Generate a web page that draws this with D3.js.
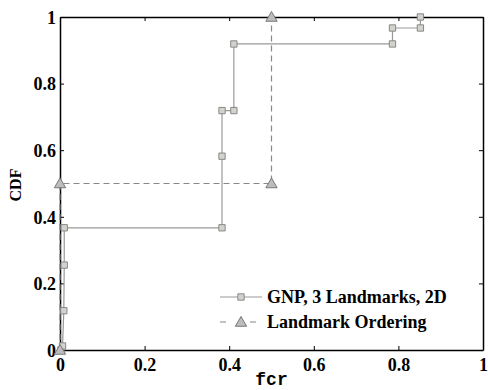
<!DOCTYPE html>
<html>
<head>
<meta charset="utf-8">
<script src="https://cdn.jsdelivr.net/npm/d3@7"></script>
<style>
  body { margin: 0; background: #fff; }
  svg { display: block; }
  .tick text { font-family: "Liberation Serif", serif; font-weight: bold; font-size: 18px; fill: #000; }
  .axis path, .axis line { stroke: #000; }
</style>
</head>
<body>
<svg width="488" height="390"></svg>
<script>
// GNP, 3 Landmarks, 2D (stair corners as plotted)
const gnpX = [0.002, 0.006, 0.009, 0.01, 0.01, 0.383, 0.383, 0.383, 0.411, 0.411, 0.786, 0.786, 0.852, 0.852];
const gnpY = [0, 0.012, 0.118, 0.255, 0.367, 0.367, 0.582, 0.719, 0.719, 0.919, 0.919, 0.967, 0.967, 1.0];

// Landmark Ordering
const ordX = [0, 0, 0.5, 0.5];
const ordY = [0, 0.5, 0.5, 1.0];

const tickValues = [0, 0.2, 0.4, 0.6, 0.8, 1];
const tickLabels = ['0', '0.2', '0.4', '0.6', '0.8', '1'];
const legendLabels = ['GNP, 3 Landmarks, 2D', 'Landmark Ordering'];

const margin = {top: 17, right: 5, bottom: 40, left: 60};

const svg = d3.select('svg');
const width = +svg.attr('width') - margin.left - margin.right;
const height = +svg.attr('height') - margin.top - margin.bottom;
const chart = svg.append('g')
  .attr('transform', 'translate(' + margin.left + ',' + margin.top + ')');

const x = d3.scaleLinear().domain([0, 1]).range([0, width]);
const y = d3.scaleLinear().domain([0, 1]).range([height, 0]);

const fmt = (d, i) => tickLabels[i];

// axes, ticks inward on all four sides
chart.append('g').attr('class', 'axis')
  .attr('transform', 'translate(0,' + height + ')')
  .call(d3.axisBottom(x).tickValues(tickValues).tickFormat(fmt).tickSizeInner(-4).tickSizeOuter(0))
  .selectAll('text').attr('y', 21).attr('dy', 0);
chart.append('g').attr('class', 'axis')
  .call(d3.axisLeft(y).tickValues(tickValues).tickFormat(fmt).tickSizeInner(-4).tickSizeOuter(0).tickPadding(4))
  .selectAll('text').attr('dy', '0.35em');
chart.append('g').attr('class', 'axis')
  .call(d3.axisTop(x).tickValues(tickValues).tickFormat('').tickSizeInner(-4).tickSizeOuter(0));
chart.append('g').attr('class', 'axis')
  .attr('transform', 'translate(' + width + ',0)')
  .call(d3.axisRight(y).tickValues(tickValues).tickFormat('').tickSizeInner(-4).tickSizeOuter(0));
chart.selectAll('.axis path').attr('stroke-width', 1.5);
chart.selectAll('.axis line').attr('stroke-width', 1);

// series
const gnp = gnpX.map((v, i) => [v, gnpY[i]]);
const ord = ordX.map((v, i) => [v, ordY[i]]);
const line = d3.line().x(d => x(d[0])).y(d => y(d[1]));

chart.append('path')
  .attr('d', line(ord))
  .attr('fill', 'none')
  .attr('stroke', '#888')
  .attr('stroke-width', 1.2)
  .attr('stroke-dasharray', '6,4');

chart.append('path')
  .attr('d', line(gnp))
  .attr('fill', 'none')
  .attr('stroke', '#999')
  .attr('stroke-width', 1.2);

const square = d3.symbol().type(d3.symbolSquare).size(40);
const triangle = d3.symbol().type(d3.symbolTriangle).size(55);

chart.selectAll('.sq')
  .data(gnp)
  .enter().append('path')
  .attr('class', 'sq')
  .attr('d', square)
  .attr('transform', d => 'translate(' + x(d[0]) + ',' + y(d[1]) + ')')
  .attr('fill', '#d4d2cc')
  .attr('stroke', '#888')
  .attr('stroke-width', 1);

chart.selectAll('.tri')
  .data(ord)
  .enter().append('path')
  .attr('class', 'tri')
  .attr('d', triangle)
  .attr('transform', d => 'translate(' + x(d[0]) + ',' + (y(d[1]) + 1) + ')')
  .attr('fill', '#bdbdbd')
  .attr('stroke', '#777')
  .attr('stroke-width', 1);

// axis titles
svg.append('text')
  .attr('x', margin.left + width / 2)
  .attr('y', 385)
  .attr('text-anchor', 'middle')
  .style('font-family', '"Liberation Mono", monospace')
  .style('font-weight', 'bold')
  .style('font-size', '18px')
  .text('fcr');

svg.append('text')
  .attr('transform', 'translate(21,185) rotate(-90)')
  .attr('text-anchor', 'middle')
  .style('font-family', '"Liberation Serif", serif')
  .style('font-weight', 'bold')
  .style('font-size', '16px')
  .text('CDF');

// legend
const legend = chart.append('g')
  .attr('transform', 'translate(' + (220 - margin.left) + ',' + (297 - margin.top) + ')');

legend.append('line')
  .attr('x1', 0).attr('x2', 42).attr('y1', 0).attr('y2', 0)
  .attr('stroke', '#999').attr('stroke-width', 1.2);
legend.append('path')
  .attr('d', square)
  .attr('transform', 'translate(21,0)')
  .attr('fill', '#d4d2cc').attr('stroke', '#888');

legend.append('line')
  .attr('x1', 0).attr('x2', 42).attr('y1', 25).attr('y2', 25)
  .attr('stroke', '#888').attr('stroke-width', 1.2)
  .attr('stroke-dasharray', '6,9');
legend.append('rect')
  .attr('x', 14).attr('y', 20).attr('width', 14).attr('height', 10)
  .attr('fill', '#fff');
legend.append('path')
  .attr('d', triangle)
  .attr('transform', 'translate(21,26)')
  .attr('fill', '#bdbdbd').attr('stroke', '#777');

legend.selectAll('.lbl')
  .data(legendLabels)
  .enter().append('text')
  .attr('class', 'lbl')
  .attr('x', 47)
  .attr('y', (d, i) => i * 25 + 6)
  .style('font-family', '"Liberation Serif", serif')
  .style('font-weight', 'bold')
  .style('font-size', '18px')
  .text(d => d);
</script>
</body>
</html>
